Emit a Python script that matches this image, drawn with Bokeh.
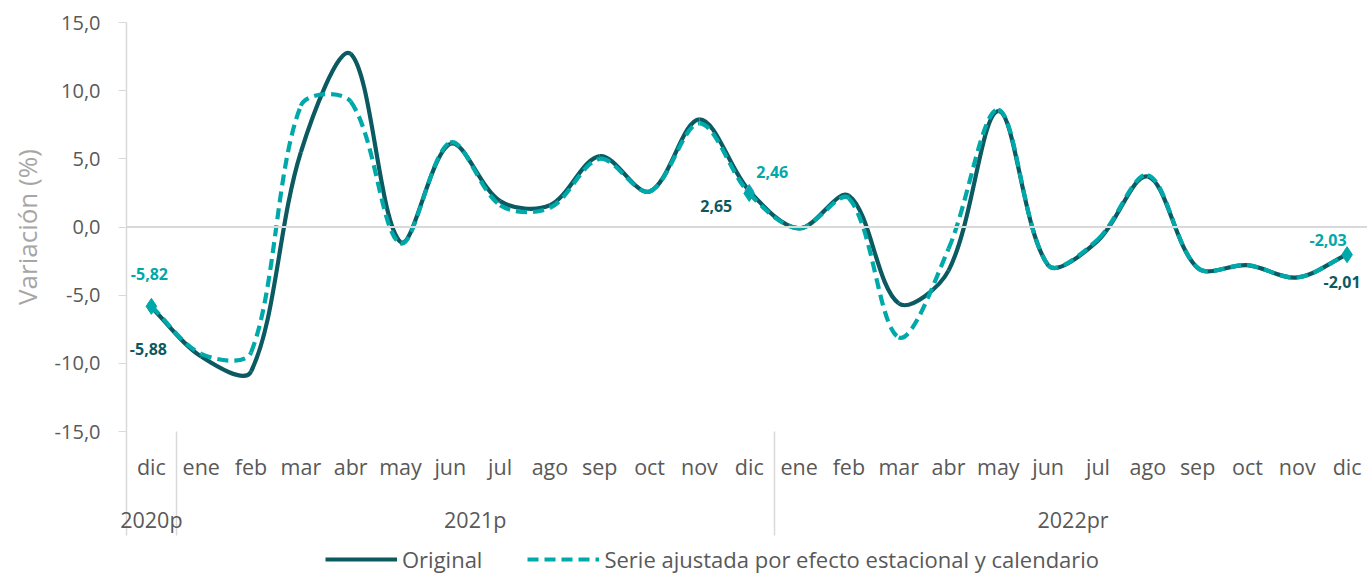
import math
from bokeh.plotting import figure
from bokeh.layouts import column
from bokeh.models import Range1d, FixedTicker, LinearAxis, Span, Legend, LegendItem
from bokeh.core.properties import value
from bokeh.embed import file_html
from bokeh.resources import INLINE

# ---------------- data ----------------
months = ["dic", "ene", "feb", "mar", "abr", "may", "jun", "jul", "ago", "sep", "oct", "nov",
          "dic", "ene", "feb", "mar", "abr", "may", "jun", "jul", "ago", "sep", "oct", "nov", "dic"]
years = ["2020p", "2021p", "2022pr"]
original = [-5.88, -9.5, -10.6, 5.5, 12.7, -1.1, 6.1, 1.9, 1.6, 5.2, 2.6, 7.9,
            2.65, -0.1, 2.3, -5.6, -3.2, 8.5, -2.8, -1.0, 3.7, -3.0, -2.8, -3.7, -2.01]
ajustada = [-5.82, -9.3, -9.2, 8.9, 9.2, -1.2, 6.2, 1.6, 1.4, 5.0, 2.6, 7.6,
            2.46, -0.1, 2.1, -8.1, -1.6, 8.6, -2.8, -0.9, 3.8, -3.0, -2.8, -3.7, -2.03]
series_names = ["Original", "Serie ajustada por efecto estacional y calendario"]
y_ticks = [-15, -10, -5, 0, 5, 10, 15]
label_idx = [0, 12, 24]

# ---------------- style ----------------
FONT = "Open Sans"
DARK = "#0b5a62"
TEAL = "#00a9a9"
BLUE = "#5f9bdb"
TXT = "#595959"
AXG = "#d9d9d9"
DASH = "11 6"
CAT_FS = "21.5px"

n = len(months)
xs = list(range(n))
year_pos = [0, 6.5, 18.5]
separators = [-0.5, 0.5, 12.5, 24.5]

W = 1367
X0, X1 = -0.5, 24.41
FW, FH = 1241, 409
sx = FW / (X1 - X0)
sy = FH / 30.0
SEP_LEN = 104

p = figure(width=W, height=544,
           x_range=Range1d(X0, X1), y_range=Range1d(-15, 15),
           output_backend="svg", toolbar_location=None,
           x_axis_location=None, y_axis_location=None,
           min_border_left=126, min_border_right=0, min_border_top=22, min_border_bottom=113)
p.outline_line_color = None
p.xgrid.visible = False
p.ygrid.visible = False
p.background_fill_color = "white"
p.border_fill_color = "white"

# y axis
yax = LinearAxis(ticker=FixedTicker(ticks=y_ticks))
yax.major_label_overrides = {t: f"{t:.1f}".replace(".", ",") for t in y_ticks}
yax.axis_line_color = AXG
yax.axis_line_width = 1.5
yax.major_tick_line_color = AXG
yax.major_tick_out = 8
yax.major_tick_in = 0
yax.minor_tick_line_color = None
yax.major_label_text_font = FONT
yax.major_label_text_font_size = "20px"
yax.major_label_text_color = TXT
yax.major_label_standoff = 18
yax.axis_label = "Variación (%)"
yax.axis_label_text_font = FONT
yax.axis_label_text_font_size = "26px"
yax.axis_label_text_font_style = "normal"
yax.axis_label_text_color = "#a6a6a6"
yax.axis_label_standoff = 7
p.add_layout(yax, "left")

# month axis (group separators drawn as long minor ticks)
mx = LinearAxis(ticker=FixedTicker(ticks=xs, minor_ticks=separators))
mx.major_label_overrides = {i: m for i, m in zip(xs, months)}
mx.axis_line_color = None
mx.major_tick_line_color = None
mx.major_tick_out = 0
mx.major_tick_in = 0
mx.minor_tick_line_color = AXG
mx.minor_tick_line_width = 1.5
mx.minor_tick_out = SEP_LEN
mx.minor_tick_in = 0
mx.major_label_text_font = FONT
mx.major_label_text_font_size = CAT_FS
mx.major_label_text_color = TXT
mx.major_label_standoff = 20 - SEP_LEN
p.add_layout(mx, "below")

# year axis
yx = LinearAxis(ticker=FixedTicker(ticks=year_pos, minor_ticks=[]))
yx.major_label_overrides = {pos: y for pos, y in zip(year_pos, years)}
yx.axis_line_color = None
yx.major_tick_line_color = None
yx.major_tick_out = 0
yx.major_tick_in = 0
yx.minor_tick_out = 0
yx.minor_tick_line_color = None
yx.major_label_text_font = FONT
yx.major_label_text_font_size = CAT_FS
yx.major_label_text_color = TXT
yx.major_label_standoff = 21
p.add_layout(yx, "below")

# zero line (category axis line)
p.add_layout(Span(location=0, dimension="width", line_color=AXG, line_width=2))


def smooth_segments(xv, yv):
    P = [(x * sx, y * sy) for x, y in zip(xv, yv)]
    Pm = [P[0]] + P + [P[-1]]
    cin, cout = [], []
    for i in range(len(P)):
        a, b, c = Pm[i], Pm[i + 1], Pm[i + 2]
        T = (c[0] - a[0], c[1] - a[1])
        d1 = math.hypot(b[0] - a[0], b[1] - a[1])
        d2 = math.hypot(c[0] - b[0], c[1] - b[1])
        if d1 + d2 == 0:
            cin.append(b); cout.append(b); continue
        fi = d1 / (d1 + d2) / 3.0
        fo = d2 / (d1 + d2) / 3.0
        vi = (T[0] * fi, T[1] * fi)
        vo = (T[0] * fo, T[1] * fo)
        lim = 0.5 * sx
        if abs(vi[0]) > lim:
            k = lim / abs(vi[0]); vi = (vi[0] * k, vi[1] * k)
        if abs(vo[0]) > lim:
            k = lim / abs(vo[0]); vo = (vo[0] * k, vo[1] * k)
        cin.append((b[0] - vi[0], b[1] - vi[1]))
        cout.append((b[0] + vo[0], b[1] + vo[1]))
    seg = dict(x0=[], y0=[], x1=[], y1=[], cx0=[], cy0=[], cx1=[], cy1=[])
    for i in range(len(P) - 1):
        seg["x0"].append(xv[i]); seg["y0"].append(yv[i])
        seg["x1"].append(xv[i + 1]); seg["y1"].append(yv[i + 1])
        seg["cx0"].append(cout[i][0] / sx); seg["cy0"].append(cout[i][1] / sy)
        seg["cx1"].append(cin[i + 1][0] / sx); seg["cy1"].append(cin[i + 1][1] / sy)
    return seg


s1 = smooth_segments(xs, original)
p.bezier(**s1, line_color=DARK, line_width=4.2)
s2 = smooth_segments(xs, ajustada)
p.bezier(**s2, line_color=TEAL, line_width=4.2, line_dash=DASH)

# markers
p.scatter(x=[xs[i] for i in label_idx], y=[original[i] for i in label_idx],
          marker="diamond", size=13, fill_color=BLUE, line_color=BLUE)
p.scatter(x=[xs[i] for i in label_idx], y=[ajustada[i] for i in label_idx],
          marker="diamond", size=16, fill_color=TEAL, line_color=TEAL)


def fmt(v):
    return f"{v:.2f}".replace(".", ",")


p.text(x=[xs[i] for i in label_idx], y=[original[i] for i in label_idx],
       text=[fmt(original[i]) for i in label_idx],
       x_offset=[-3, -33, -5], y_offset=[42, 15, 28],
       text_align="center", text_baseline="middle",
       text_font=value(FONT), text_font_size="16px", text_font_style="bold", text_color=DARK)
p.text(x=[xs[i] for i in label_idx], y=[ajustada[i] for i in label_idx],
       text=[fmt(ajustada[i]) for i in label_idx],
       x_offset=[-2, 23, -19], y_offset=[-32, -21, -15],
       text_align="center", text_baseline="middle",
       text_font=value(FONT), text_font_size="16px", text_font_style="bold", text_color=TEAL)

# ---------------- legend strip ----------------
lg = figure(width=W, height=31, x_range=Range1d(0, 1), y_range=Range1d(0, 1),
            output_backend="svg", toolbar_location=None,
            x_axis_location=None, y_axis_location=None,
            min_border_left=0, min_border_right=0, min_border_top=0, min_border_bottom=0)
lg.outline_line_color = None
lg.xgrid.visible = False
lg.ygrid.visible = False
lg.border_fill_color = "white"
nan = float("nan")
# placeholder renderers (draw nothing) that only carry the legend styles
l1 = lg.line(x=[nan], y=[nan], line_color=DARK, line_width=4.2)
l2 = lg.line(x=[nan], y=[nan], line_color=TEAL, line_width=4.2, line_dash=DASH)
legend = Legend(items=[LegendItem(label=series_names[0], renderers=[l1]),
                       LegendItem(label=series_names[1], renderers=[l2])],
                orientation="horizontal", location=(199, 1))
legend.label_text_font = FONT
legend.label_text_font_size = "22px"
legend.label_text_color = TXT
legend.glyph_width = 72
legend.glyph_height = 20
legend.label_standoff = 5
legend.spacing = 45
legend.padding = 0
legend.margin = 0
legend.border_line_color = None
legend.background_fill_alpha = 0
lg.add_layout(legend, "center")

layout = column(p, lg, spacing=0)
open("out.html", "w").write(file_html(layout, INLINE))
